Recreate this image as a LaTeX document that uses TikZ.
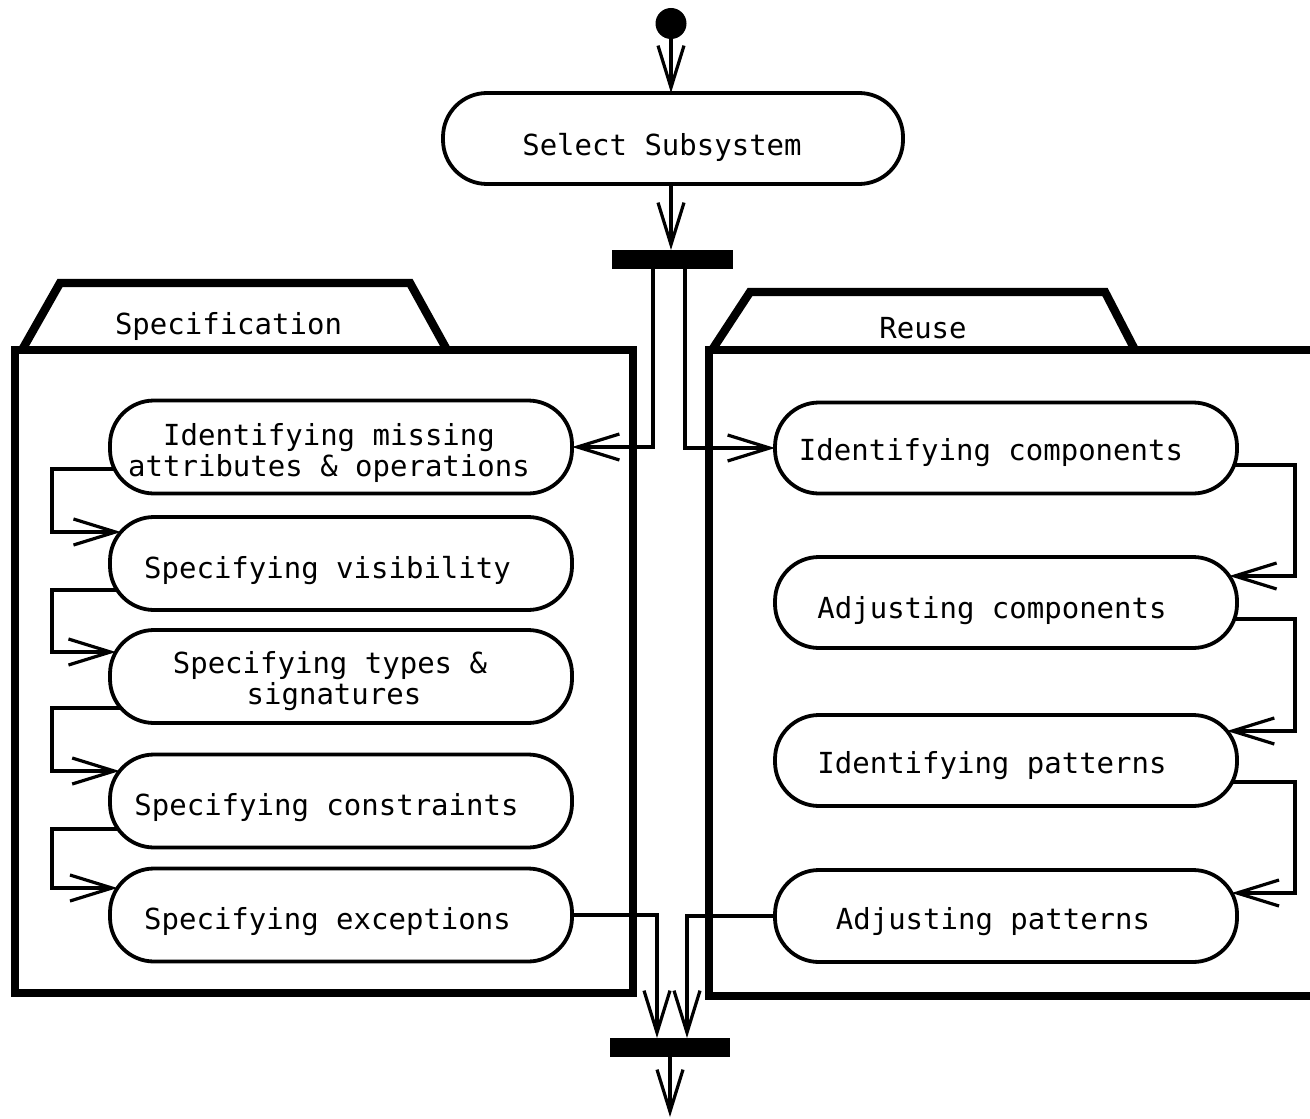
\documentclass[tikz,border=0pt]{standalone}
\usepackage{fontspec}
\newfontfamily\diagfont{DejaVu Sans Mono}
\usetikzlibrary{arrows.meta,calc}
\begin{document}
\begin{tikzpicture}[x=0.5pt,y=-0.5pt,
  flow/.style={line width=1.6pt,-{Straight Barb[length=21pt,width=13pt]}},
  act/.style={draw,line width=1.9pt,rounded corners=22pt,minimum width=231pt,
    minimum height=46.5pt,inner sep=0pt,outer sep=0pt,fill=white},
  bar/.style={fill=black,inner sep=0pt,outer sep=0pt,minimum width=60.5pt,minimum height=9.5pt},
  part/.style={line width=4.2pt},
  txt/.style={font=\diagfont\fontsize{14.5pt}{15.5pt}\selectfont,inner sep=0pt,anchor=base},
]
\path[use as bounding box] (0,0) rectangle (1310,1118);
\clip (0,0) rectangle (1310,1118);

% swimlane partitions
\draw[part] (22,350) -- (60,283) -- (410,283) -- (447,350);
\draw[part] (15,350) rectangle (633,993);
\draw[part] (712,350) -- (750,292) -- (1105,292) -- (1135,350);
\draw[part] (709,350) rectangle (1340,996);
\node[txt] (ptSpec) at (228.5,334) {Specification};
\node[txt] (ptReuse) at (923,338) {Reuse};

% start, fork and join
\node[circle,fill=black,minimum size=15.5pt,inner sep=0pt,outer sep=0pt] (init) at (671,23.5) {};
\node[bar] (fork) at (672.5,259.5) {};
\node[bar,minimum width=60pt] (join) at (670,1047.5) {};
\coordinate (out) at (670,1117);

% activities
\node[act,minimum width=230pt,minimum height=45.5pt] (sel) at (673,138.5) {};
\node[act] (n1) at (341,447) {};
\node[act] (n2) at (341,563.5) {};
\node[act] (n3) at (341,676.5) {};
\node[act] (n4) at (341,801) {};
\node[act] (n5) at (341,915) {};
\node[act,minimum height=45.5pt] (r1) at (1006,448) {};
\node[act,minimum height=45.5pt] (r2) at (1006,602.5) {};
\node[act,minimum height=45.5pt] (r3) at (1006,760.5) {};
\node[act,minimum height=46pt] (r4) at (1006,916) {};

% activity texts
\node[txt] (tsel) at (662,156) {Select Subsystem};
\node[txt] (tn1a) at (329,445) {Identifying missing};
\node[txt] (tn1b) at (329,476) {attributes \& operations};
\node[txt] (tn2) at (327.5,578) {Specifying visibility};
\node[txt] (tn3a) at (330,673) {Specifying types \&};
\node[txt] (tn3b) at (334,704) {signatures};
\node[txt] (tn4) at (326.5,815) {Specifying constraints};
\node[txt] (tn5) at (327.5,929) {Specifying exceptions};
\node[txt] (tr1) at (991,460) {Identifying components};
\node[txt] (tr2) at (992,618) {Adjusting components};
\node[txt] (tr3) at (992,773) {Identifying patterns};
\node[txt] (tr4) at (993,929) {Adjusting patterns};

% side rails for the sequential flows
\coordinate (railL) at (52,0);
\coordinate (railR) at (1295,0);

% exit and entry points on the rounded ends
\coordinate (a1) at ($(n1.west)+(4.5,22)$);
\coordinate (b2) at ($(n2.west)+(10.9,-31.5)$);
\coordinate (a2) at ($(n2.west)+(7.1,26.5)$);
\coordinate (b3) at ($(n3.west)+(5.9,-24.5)$);
\coordinate (a3) at ($(n3.west)+(10.9,31.5)$);
\coordinate (b4) at ($(n4.west)+(9.6,-30)$);
\coordinate (a4) at ($(n4.west)+(8.1,28)$);
\coordinate (b5) at ($(n5.west)+(7.4,-27)$);
\coordinate (c1) at ($(r1.east)+(-2.8,17)$);
\coordinate (d2) at ($(r2.east)+(-7.8,-26.5)$);
\coordinate (c2) at ($(r2.east)+(-2.6,16.5)$);
\coordinate (d3) at ($(r3.east)+(-10.1,-29.5)$);
\coordinate (c3) at ($(r3.east)+(-4.8,21.5)$);
\coordinate (d4) at ($(r4.east)+(-5.4,-23)$);

% control flows
\draw[flow] (init.south) -- (init.south |- sel.north);
\draw[flow] (init.south |- sel.south) -- (init.south |- fork.north);
\draw[flow] ($(fork.south)+(-19.5,0)$) |- (n1.east);
\draw[flow] ($(fork.south)+(12.5,0)$) |- (r1.west);

\draw[flow] (a1) -- (a1 -| railL) |- (b2);
\draw[flow] (a2) -- (a2 -| railL) |- (b3);
\draw[flow] (a3) -- (a3 -| railL) |- (b4);
\draw[flow] (a4) -- (a4 -| railL) |- (b5);

\draw[flow] (c1) -- (c1 -| railR) |- (d2);
\draw[flow] (c2) -- (c2 -| railR) |- (d3);
\draw[flow] (c3) -- (c3 -| railR) |- (d4);

\draw[flow] (n5.east) -| ($(join.north)+(-13,0)$);
\draw[flow] (r4.west) -| ($(join.north)+(17,0)$);
\draw[flow] (join.south) -- (join.south |- out);
\end{tikzpicture}
\end{document}
